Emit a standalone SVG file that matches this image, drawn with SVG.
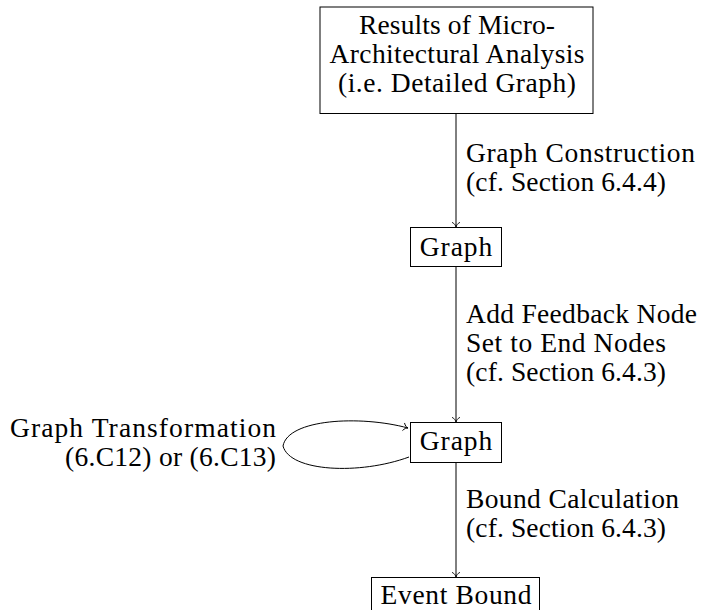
<svg xmlns="http://www.w3.org/2000/svg" width="702" height="610" viewBox="0 0 702 610">
  <style>
    .box { fill: #ffffff; stroke: #000000; stroke-width: 1; }
    .edge { fill: none; stroke: #000000; stroke-width: 1; marker-end: url(#to); }
    text { font-family: 'Liberation Serif', 'Times New Roman', serif; font-size: 27.5px; fill: #000000; }
    .c { text-anchor: middle; }
    .r { text-anchor: end; }
  </style>
  <defs>
    <!-- open "to"-style arrow tip -->
    <marker id="to" markerUnits="userSpaceOnUse" markerWidth="12" markerHeight="12" viewBox="-6 -6 12 12" refX="0" refY="0" orient="auto">
      <path d="M-4.5,-3.6 C-3.4,-1.3 -1.2,-0.3 0,0 C-1.2,0.3 -3.4,1.3 -4.5,3.6" fill="none" stroke="#000" stroke-width="0.9" stroke-linecap="round"/>
    </marker>
  </defs>

  <g id="connectors">
    <path class="edge" d="M456,114 V227"/>
    <path class="edge" d="M456,266.5 V422"/>
    <path class="edge" d="M456,462.5 V577"/>
    <!-- self loop on the second graph node -->
    <path class="edge" d="M409,457 C360,475 290,472 283,446 C288,419 360,415 408,428"/>
  </g>

  <g id="edge-labels">
    <text x="466" y="162" textLength="229">Graph Construction</text>
    <text x="466" y="191" textLength="200">(cf. Section 6.4.4)</text>
    <text x="466" y="323" textLength="231">Add Feedback Node</text>
    <text x="466" y="352" textLength="200">Set to End Nodes</text>
    <text x="466" y="381" textLength="200">(cf. Section 6.4.3)</text>
    <text x="466" y="508" textLength="213">Bound Calculation</text>
    <text x="466" y="537" textLength="200">(cf. Section 6.4.3)</text>
    <text class="r" x="276" y="437" textLength="266">Graph Transformation</text>
    <text class="r" x="276" y="466" textLength="211">(6.C12) or (6.C13)</text>
  </g>

  <g id="node-results">
    <rect class="box" x="320" y="7" width="273" height="106.5"/>
    <text class="c" x="457" y="34" textLength="196">Results of Micro-</text>
    <text class="c" x="457" y="63" textLength="255">Architectural Analysis</text>
    <text class="c" x="457" y="92" textLength="238">(i.e. Detailed Graph)</text>
  </g>

  <g id="node-graph1">
    <rect class="box" x="410.5" y="227.5" width="91" height="39"/>
    <text class="c" x="456" y="256" textLength="72.5">Graph</text>
  </g>

  <g id="node-graph2">
    <rect class="box" x="410.5" y="422.5" width="91" height="40"/>
    <text class="c" x="456" y="450" textLength="72.5">Graph</text>
  </g>

  <g id="node-bound">
    <rect class="box" x="371.5" y="577.5" width="168" height="42"/>
    <text class="c" x="456" y="604" textLength="151">Event Bound</text>
  </g>
</svg>
